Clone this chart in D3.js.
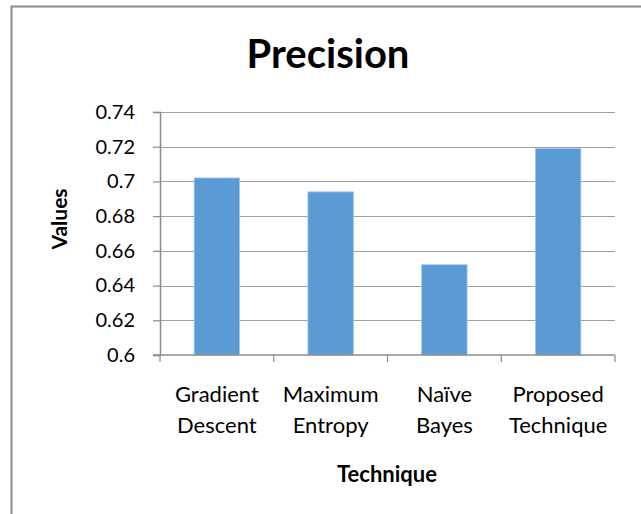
<!DOCTYPE html>
<html>
<head>
<meta charset="utf-8">
<script src="https://cdn.jsdelivr.net/npm/d3@7"></script>
<style>
  html, body { margin: 0; padding: 0; background: #fff; }
  svg { display: block; }
  text { font-family: Lato, "Open Sans", sans-serif; fill: #000; }
</style>
</head>
<body>
<script>
// Precision per technique
const categories = ["Gradient Descent", "Maximum Entropy", "Naïve Bayes", "Proposed Technique"];
const labelLines = [["Gradient", "Descent"], ["Maximum", "Entropy"], ["Naïve", "Bayes"], ["Proposed", "Technique"]];
const values = [0.702, 0.694, 0.652, 0.719];
const yTicks = [0.6, 0.62, 0.64, 0.66, 0.68, 0.7, 0.72, 0.74];
const yTickLabels = ["0.6", "0.62", "0.64", "0.66", "0.68", "0.7", "0.72", "0.74"];

const W = 641, H = 514;
const plot = { left: 160, right: 615, top: 112, bottom: 355 };

const svg = d3.select("body").append("svg").attr("width", W).attr("height", H);

// chart frame
svg.append("rect")
  .attr("x", 11.5).attr("y", 6.5)
  .attr("width", W + 20).attr("height", H + 20)
  .attr("fill", "#fff").attr("stroke", "#8c8c8c").attr("stroke-width", 2);

const x = d3.scaleBand().domain(categories).range([plot.left, plot.right]).paddingInner(0.6).paddingOuter(0.3);
const y = d3.scaleLinear().domain([0.6, 0.74]).range([plot.bottom, plot.top]);

// gridlines
svg.append("g").selectAll("line")
  .data(yTicks.slice(1))
  .join("line")
  .attr("x1", plot.left).attr("x2", plot.right)
  .attr("y1", d => Math.round(y(d)) + 0.5).attr("y2", d => Math.round(y(d)) + 0.5)
  .attr("stroke", "#a0a0a0").attr("stroke-width", 1.2);

// bars
svg.append("g").selectAll("rect")
  .data(values)
  .join("rect")
  .attr("x", (d, i) => x(categories[i]))
  .attr("width", x.bandwidth())
  .attr("y", d => y(d))
  .attr("height", d => y(0.6) - y(d))
  .attr("fill", "#5b9bd5")
  .attr("stroke", "#a9c8ea").attr("stroke-width", 0.8);

// y axis
const yAxis = d3.axisLeft(y).tickValues(yTicks)
  .tickFormat((d, i) => yTickLabels[i]).tickSize(7).tickPadding(18);
const gy = svg.append("g").attr("transform", `translate(${plot.left},0)`).call(yAxis);
gy.select(".domain").attr("stroke", "#8c8c8c").attr("stroke-width", 1.5);
gy.selectAll(".tick line").attr("stroke", "#8c8c8c").attr("stroke-width", 1.2);
gy.selectAll(".tick text").style("font-size", "20px").style("font-family", "Lato, sans-serif").attr("fill", "#000");

// x axis: ticks at category boundaries
const xStep = (plot.right - plot.left) / categories.length;
const gx = svg.append("g");
gx.append("line")
  .attr("x1", plot.left - 7).attr("x2", plot.right)
  .attr("y1", y(0.6)).attr("y2", y(0.6))
  .attr("stroke", "#8c8c8c").attr("stroke-width", 1.5);
gx.selectAll("line.tk")
  .data(d3.range(categories.length + 1))
  .join("line").attr("class", "tk")
  .attr("x1", i => plot.left + i * xStep).attr("x2", i => plot.left + i * xStep)
  .attr("y1", y(0.6)).attr("y2", y(0.6) + 7)
  .attr("stroke", "#8c8c8c").attr("stroke-width", 1.2);

// category labels
const lab = svg.append("g").selectAll("text")
  .data(categories)
  .join("text")
  .attr("x", d => x(d) + x.bandwidth() / 2)
  .attr("text-anchor", "middle")
  .style("font-size", "22px");
lab.selectAll("tspan")
  .data((d, i) => labelLines[i])
  .join("tspan")
  .attr("x", function() { return d3.select(this.parentNode).attr("x"); })
  .attr("y", (d, j) => 402 + j * 31)
  .text(d => d);

// title
svg.append("text")
  .attr("x", 328).attr("y", 68)
  .attr("text-anchor", "middle")
  .style("font-size", "40px").style("font-weight", "bold")
  .text("Precision");

// axis titles
svg.append("text")
  .attr("transform", "translate(67,219) rotate(-90)")
  .attr("text-anchor", "middle")
  .style("font-size", "21px").style("font-weight", "bold")
  .text("Values");

svg.append("text")
  .attr("x", 387).attr("y", 482)
  .attr("text-anchor", "middle")
  .style("font-size", "22px").style("font-weight", "bold")
  .text("Technique");
</script>
</body>
</html>
